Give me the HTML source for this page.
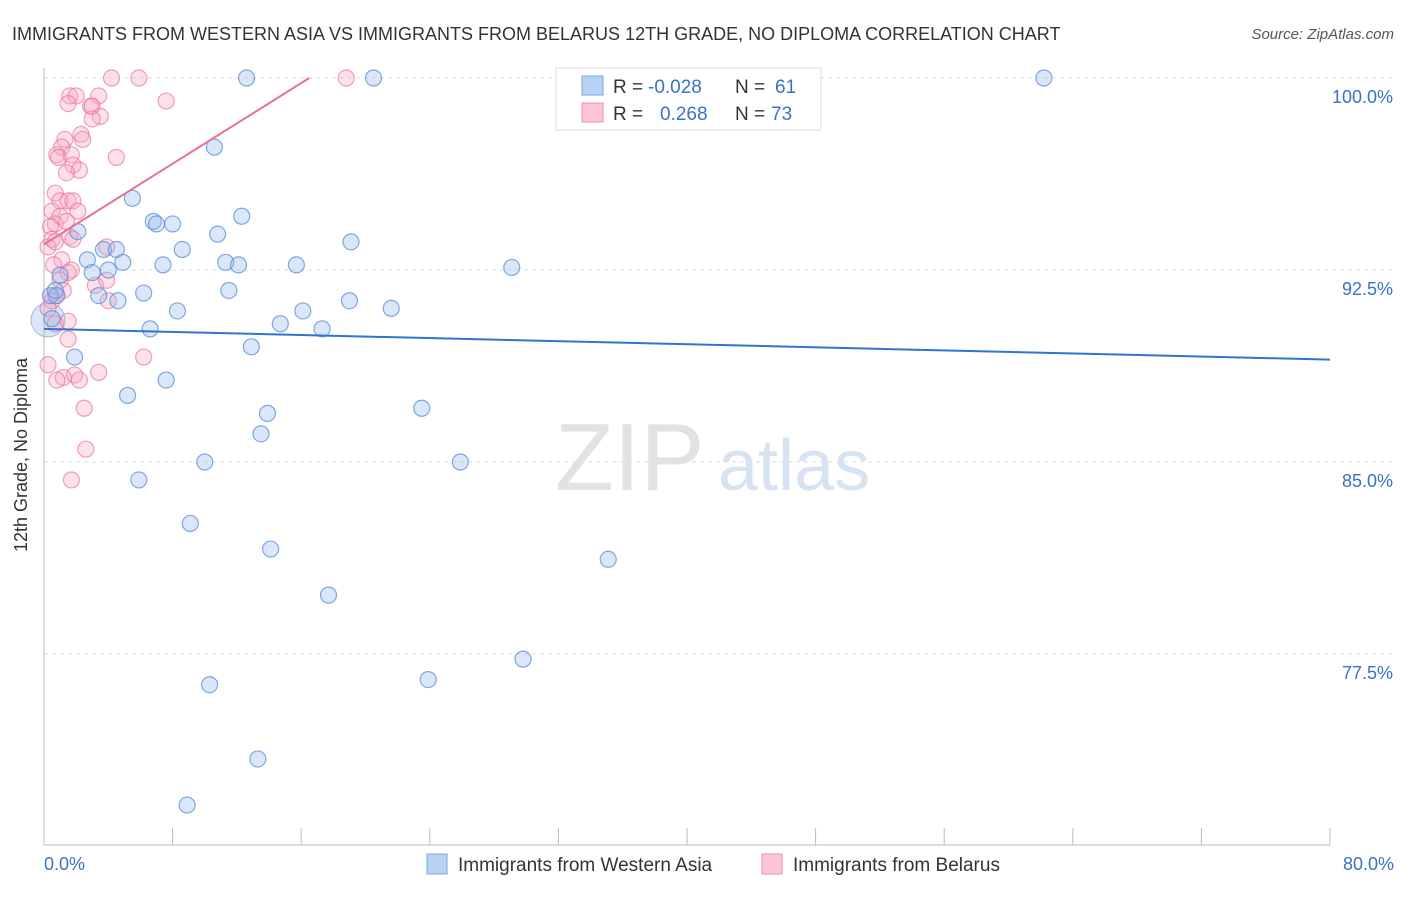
<!DOCTYPE html>
<html><head><meta charset="utf-8"><style>
body{margin:0;background:#fff;font-family:"Liberation Sans",sans-serif;}
svg text{font-family:"Liberation Sans",sans-serif;}
</style></head><body>
<svg id="c" width="1406" height="892" xmlns="http://www.w3.org/2000/svg">
<text x="12" y="40" font-size="18" fill="#333">IMMIGRANTS FROM WESTERN ASIA VS IMMIGRANTS FROM BELARUS 12TH GRADE, NO DIPLOMA CORRELATION CHART</text>
<text x="1394" y="39" font-size="15" fill="#555" font-style="italic" text-anchor="end">Source: ZipAtlas.com</text>
<text x="27" y="455" font-size="18" fill="#333" text-anchor="middle" transform="rotate(-90 27 455)">12th Grade, No Diploma</text>
<g id="grid"></g>
<text x="555" y="490" font-size="96" fill="#e2e2e2" font-family="Liberation Serif">ZIP</text>
<text x="718" y="490" font-size="72" fill="#d6e3f3">atlas</text>
<g id="pts"></g>
<g id="lines"></g>
<g>
<rect x="556" y="68" width="265" height="62" fill="#fff" stroke="#ddd"/>
<rect x="582" y="76" width="21" height="19" fill="#b8d2f5" stroke="#7aa6e0"/>
<rect x="582" y="103" width="21" height="19" fill="#fcc6d6" stroke="#ec8fae"/>
<text x="613" y="93" font-size="19" fill="#333">R = </text><text x="648" y="93" font-size="19" fill="#3a72c8">-0.028</text>
<text x="735" y="93" font-size="19" fill="#333">N = </text><text x="775" y="93" font-size="19" fill="#3a72c8">61</text>
<text x="613" y="120" font-size="19" fill="#333">R = </text><text x="660" y="120" font-size="19" fill="#3a72c8">0.268</text>
<text x="735" y="120" font-size="19" fill="#333">N = </text><text x="771" y="120" font-size="19" fill="#3a72c8">73</text>
</g>
<text x="44" y="870" font-size="18" fill="#3a72c8">0.0%</text>
<text x="1394" y="870" font-size="18" fill="#3a72c8" text-anchor="end">80.0%</text>
<g>
<rect x="427" y="854" width="20" height="20" fill="#b8d2f5" stroke="#7aa6e0"/>
<text x="458" y="871" font-size="19" fill="#333">Immigrants from Western Asia</text>
<rect x="762" y="854" width="20" height="20" fill="#fcc6d6" stroke="#ec8fae"/>
<text x="793" y="871" font-size="19" fill="#333">Immigrants from Belarus</text>
</g>
</svg>
<script>
const yTicks=[100,92.5,85,77.5];
const yTickLabels=["100.0%","92.5%","85.0%","77.5%"];
const blueX=[12.6,20.5,44.0,62.2,10.6,5.5,6.8,7.0,8.0,12.3,10.8,2.1,19.1,8.6,3.7,4.5,2.7,4.9,7.4,11.3,12.1,15.7,29.1,3.0,4.0,1.0,6.2,11.5,3.4,4.6,0.8,16.1,21.6,19.0,8.3,14.7,17.3,6.6,12.9,1.9,7.6,5.2,23.5,13.9,13.5,10.0,25.9,5.9,9.1,14.1,35.1,17.7,29.8,10.3,23.9,13.3,8.9,0.5,0.4,0.7];
const blueY=[100,100,100,100,97.3,95.3,94.4,94.3,94.3,94.6,93.9,94.0,93.6,93.3,93.3,93.3,92.9,92.8,92.7,92.8,92.7,92.7,92.6,92.4,92.5,92.3,91.6,91.7,91.5,91.3,91.5,90.9,91.0,91.3,90.9,90.4,90.2,90.2,89.5,89.1,88.2,87.6,87.1,86.9,86.1,85.0,85.0,84.3,82.6,81.6,81.2,79.8,77.3,76.3,76.5,73.4,71.6,90.6,91.5,91.7];
const pinkX=[4.2,5.9,18.8,7.6,1.6,2.0,3.4,1.5,2.9,3.0,3.5,3.0,1.3,2.3,2.4,1.1,0.8,0.9,1.7,4.5,1.8,2.2,1.4,0.7,1.0,1.5,1.8,2.1,0.5,1.0,0.7,1.4,0.4,1.6,1.8,0.5,0.25,0.7,3.9,1.1,1.7,1.5,0.6,1.0,3.2,3.9,1.2,0.7,0.5,4.0,0.25,1.5,0.7,1.5,6.2,0.25,1.2,1.9,2.2,3.4,0.8,2.5,2.6,1.7];
const pinkY=[100,100,100,99.1,99.3,99.3,99.3,99.0,98.9,98.9,98.5,98.4,97.6,97.8,97.6,97.3,97.0,96.9,97.0,96.9,96.6,96.4,96.3,95.5,95.2,95.2,95.2,94.8,94.8,94.6,94.3,94.4,94.2,93.8,93.7,93.7,93.4,93.6,93.4,92.9,92.5,92.4,92.7,92.1,91.9,92.1,91.7,91.5,91.3,91.3,91.0,90.5,90.4,89.8,89.1,88.8,88.3,88.4,88.2,88.5,88.2,87.1,85.5,84.3];
const blueLine=[90.2,89.0], pinkLine=[93.5,100];
const X=v=>44+v*16.075, Y=v=>78+(100-v)*25.6;
const NS="http://www.w3.org/2000/svg";
function mk(t,a,p){const e=document.createElementNS(NS,t);for(const k in a)e.setAttribute(k,a[k]);p.appendChild(e);return e;}
const g=document.getElementById('grid');
yTicks.forEach((t,i)=>{
 const l=mk('line',{x1:44,x2:1394,y1:Y(t),y2:Y(t),stroke:'#ddd','stroke-dasharray':'4,4'},g);
 
 
 const tx=mk('text',{x:1393,y:Y(t)+25,'font-size':18,fill:'#3a72c8','text-anchor':'end'},g);
 tx.textContent=yTickLabels[i];
 
 
});
mk('line',{x1:44,x2:44,y1:68,y2:845,stroke:'#bbb'},g);
mk('line',{x1:44,x2:1330,y1:845,y2:845,stroke:'#bbb'},g);
for(let i=0;i<=10;i++){const t=mk('line',{x1:X(i*8),x2:X(i*8),y1:828,y2:845,stroke:'#bbb'},g);
 
 }
const p=document.getElementById('pts');
const big=mk('circle',{cx:48,cy:320,r:17,fill:'rgba(150,185,235,0.35)',stroke:'rgba(100,150,220,0.6)'},p);


pinkX.forEach((x,i)=>{const c=mk('circle',{cx:X(x),cy:Y(pinkY[i]),r:8,fill:'rgba(248,170,195,0.35)',stroke:'rgba(232,120,160,0.7)','stroke-width':1.2},p);
 
 });
blueX.forEach((x,i)=>{const c=mk('circle',{cx:X(x),cy:Y(blueY[i]),r:8,fill:'rgba(150,185,235,0.35)',stroke:'rgba(90,140,215,0.75)','stroke-width':1.2},p);
 
 });
const L=document.getElementById('lines');
const b=mk('line',{x1:X(0),y1:Y(blueLine[0]),x2:X(80),y2:Y(blueLine[1]),stroke:'#2f74d0','stroke-width':2},L);


const pl=mk('line',{x1:X(0),y1:Y(pinkLine[0]),x2:X(16.5),y2:Y(pinkLine[1]),stroke:'#e8709a','stroke-width':2},L);


</script>
</body></html>
